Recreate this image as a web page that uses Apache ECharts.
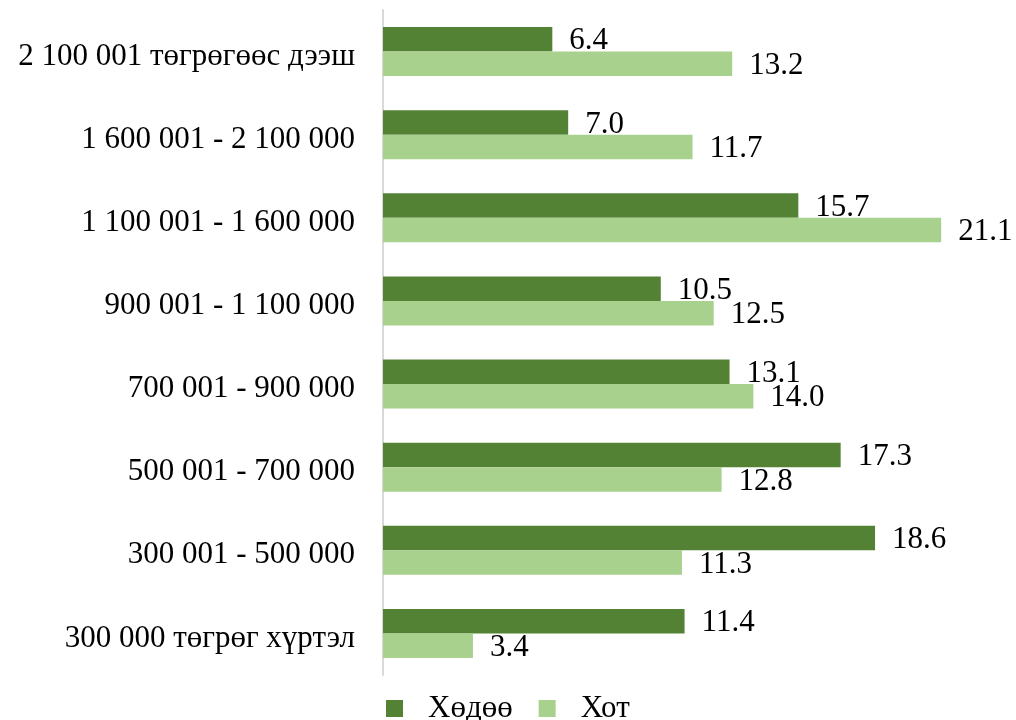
<!DOCTYPE html>
<html><head><meta charset="utf-8">
<script src="https://cdn.jsdelivr.net/npm/echarts@6/dist/echarts.min.js"></script>
<style>html,body{margin:0;padding:0;background:#fff}#c{width:1016px;height:720px}</style>
</head><body><div id="c"></div>
<script>
const categories = ['300 000 төгрөг хүртэл', '300 001 - 500 000', '500 001 - 700 000', '700 001 - 900 000', '900 001 - 1 100 000', '1 100 001 - 1 600 000', '1 600 001 - 2 100 000', '2 100 001 төгрөгөөс дээш'];
const rural = [11.4, 18.6, 17.3, 13.1, 10.5, 15.7, 7.0, 6.4];
const urban = [3.4, 11.3, 12.8, 14.0, 12.5, 21.1, 11.7, 13.2];
const seriesNames = ['Хөдөө', 'Хот'];

const font = '"Liberation Serif", "Times New Roman", serif';
const chart = echarts.init(document.getElementById('c'));
const lbl = {show: true, position: 'right', distance: 17, offset: [0, 2], color: '#000', fontFamily: font, fontSize: 31,
  formatter: p => Number(p.value).toFixed(1)};
chart.setOption({
  animation: false,
  textStyle: {fontFamily: font},
  grid: {left: 383, top: 10, width: 582, height: 665, containLabel: false},
  legend: {left: 386, top: 693, padding: 0, itemWidth: 17, itemHeight: 17, itemGap: 26, icon: 'rect',
    textStyle: {fontFamily: font, fontSize: 31, color: '#000', padding: [12, 0, 0, 20]},
    data: seriesNames},
  xAxis: {type: 'value', min: 0, max: 22, show: false},
  yAxis: {type: 'category', data: categories,
    axisLine: {show: true, lineStyle: {color: '#d9d9d9', width: 2}},
    axisTick: {show: false},
    axisLabel: {margin: 28, formatter: v => '{a|' + v + '}',
      rich: {a: {fontFamily: font, fontSize: 31, color: '#000', padding: [10, 0, 0, 0]}}}},
  series: [
    {name: seriesNames[0], type: 'bar', data: rural, barGap: '0%', barCategoryGap: '41%',
     itemStyle: {color: '#548235'}, label: lbl},
    {name: seriesNames[1], type: 'bar', data: urban, barGap: '0%', barCategoryGap: '41%',
     itemStyle: {color: '#A9D18E'}, label: lbl}
  ]
});
</script></body></html>
